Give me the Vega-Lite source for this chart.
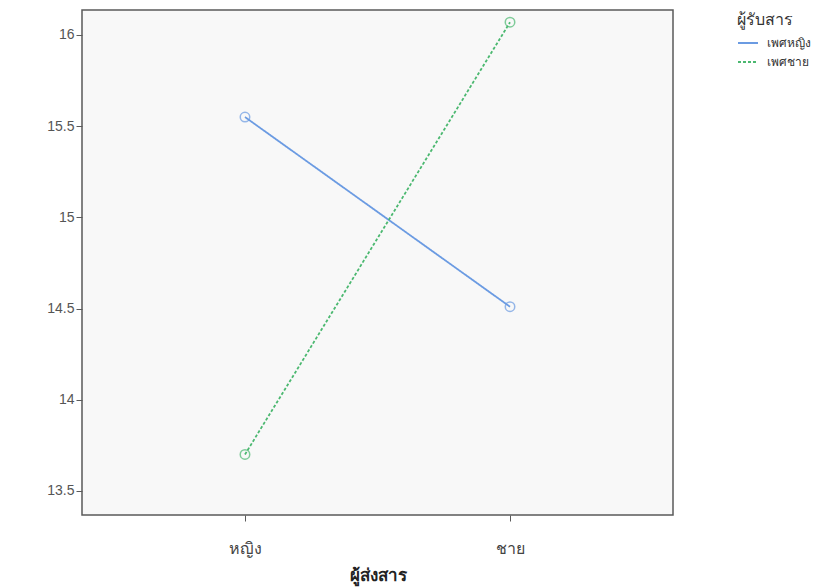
{
  "$schema": "https://vega.github.io/schema/vega-lite/v6.json",
  "width": 591,
  "height": 505,
  "autosize": {"type": "none"},
  "padding": {"left": 82, "top": 10, "right": 163, "bottom": 72},
  "background": "#ffffff",
  "config": {
    "font": "Liberation Sans, DejaVu Sans, sans-serif",
    "view": {"stroke": "#5a5a5a", "strokeWidth": 1.5, "fill": "#f8f8f8"}
  },
  "data": {
    "values": [
      {"sender": "หญิง", "receiver": "เพศหญิง", "mean": 15.55},
      {"sender": "ชาย", "receiver": "เพศหญิง", "mean": 14.51},
      {"sender": "หญิง", "receiver": "เพศชาย", "mean": 13.70},
      {"sender": "ชาย", "receiver": "เพศชาย", "mean": 16.07}
    ]
  },
  "encoding": {
    "x": {
      "field": "sender",
      "type": "nominal",
      "sort": ["หญิง", "ชาย"],
      "scale": {"type": "point", "padding": 0.615},
      "axis": {
        "title": "ผู้ส่งสาร",
        "titleFontSize": 17,
        "titleFontWeight": "bold",
        "titleColor": "#222222",
        "titlePadding": 11,
        "labelAngle": 0,
        "labelFontSize": 16,
        "labelColor": "#444444",
        "labelPadding": 19,
        "domain": false,
        "tickColor": "#5a5a5a",
        "tickSize": 6,
        "grid": false
      }
    },
    "y": {
      "field": "mean",
      "type": "quantitative",
      "scale": {"domain": [13.368, 16.137], "nice": false, "zero": false},
      "axis": {
        "title": null,
        "values": [13.5, 14, 14.5, 15, 15.5, 16],
        "format": "~g",
        "labelFontSize": 14,
        "labelColor": "#555555",
        "labelPadding": 2,
        "domain": false,
        "tickColor": "#5a5a5a",
        "tickSize": 6,
        "grid": false
      }
    },
    "color": {
      "field": "receiver",
      "type": "nominal",
      "sort": ["เพศหญิง", "เพศชาย"],
      "scale": {"domain": ["เพศหญิง", "เพศชาย"], "range": ["#6b9be2", "#4bb870"]}
    }
  },
  "layer": [
    {
      "mark": {"type": "line", "strokeWidth": 1.8},
      "encoding": {
        "strokeDash": {
          "field": "receiver",
          "type": "nominal",
          "sort": ["เพศหญิง", "เพศชาย"],
          "scale": {"domain": ["เพศหญิง", "เพศชาย"], "range": [[1, 0], [3, 2]]}
        },
        "color": {
          "field": "receiver",
          "type": "nominal",
          "sort": ["เพศหญิง", "เพศชาย"],
          "scale": {"domain": ["เพศหญิง", "เพศชาย"], "range": ["#6b9be2", "#4bb870"]},
          "legend": {
            "title": "ผู้รับสาร",
            "orient": "none",
            "legendX": 655,
            "legendY": 2,
            "titleFontSize": 16,
            "titleFontWeight": "normal",
            "titleColor": "#333333",
            "titlePadding": 4,
            "labelFontSize": 12,
            "labelColor": "#333333",
            "labelOffset": 8,
            "symbolType": "stroke",
            "symbolSize": 400,
            "symbolStrokeWidth": 1.8,
            "rowPadding": 2
          }
        }
      }
    },
    {
      "mark": {"type": "point", "shape": "circle", "filled": false, "size": 90, "strokeWidth": 1.5},
      "encoding": {
        "color": {
          "field": "receiver",
          "type": "nominal",
          "sort": ["เพศหญิง", "เพศชาย"],
          "scale": {"domain": ["เพศหญิง", "เพศชาย"], "range": ["#6b9be2", "#4bb870"]},
          "legend": null
        }
      }
    }
  ]
}
